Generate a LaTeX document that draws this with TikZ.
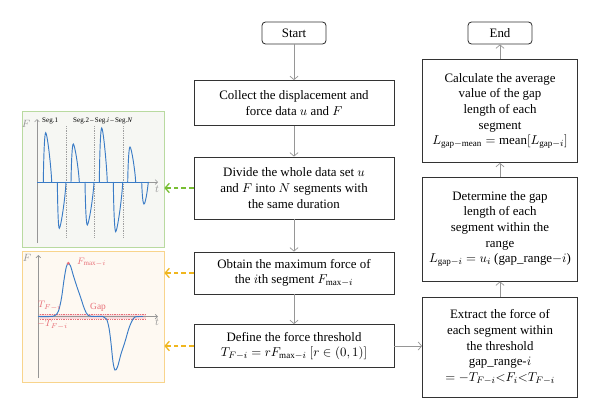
\documentclass[tikz,border=0pt]{standalone}
\usepackage{fontspec}
\setmainfont{Liberation Serif}
\usetikzlibrary{arrows.meta}
\definecolor{curveblue}{RGB}{58,124,198}
\definecolor{gapred}{RGB}{232,112,120}
\definecolor{flowgrey}{RGB}{150,150,150}
\definecolor{axisgrey}{RGB}{150,150,150}
\definecolor{segline}{RGB}{160,160,160}
\definecolor{greenedge}{RGB}{185,218,160}
\definecolor{greenback}{RGB}{246,247,243}
\definecolor{orangeedge}{RGB}{248,212,140}
\definecolor{orangeback}{RGB}{254,249,242}
\definecolor{greenhint}{RGB}{120,190,50}
\definecolor{orangehint}{RGB}{240,182,30}
\tikzset{
  stepbox/.style={draw=black!80, line width=0.7pt, minimum width=6cm, align=center,
    inner sep=2pt, font=\fontsize{11}{13.4}\selectfont},
  sidebox/.style={stepbox, minimum width=4.65cm},
  termbox/.style={draw=black!80, line width=0.7pt, rounded corners=3pt,
    minimum width=1.92cm, minimum height=0.66cm, font=\fontsize{11}{13}\selectfont},
  flow/.style={draw=flowgrey, line width=0.6pt, -{Straight Barb[length=3pt,width=7pt]}},
  hint/.style={dashed, dash pattern=on 4pt off 2.5pt, line width=1.1pt,
    -{Straight Barb[length=3.5pt,width=8pt]}},
  panel/.style={line width=0.6pt, minimum width=4.26cm},
  axis/.style={draw=axisgrey, line width=0.6pt, -{Straight Barb[length=2pt,width=4pt]}},
  curve/.style={draw=curveblue, line width=0.8pt},
  axlabel/.style={text=axisgrey, font=\fontsize{9}{10}\selectfont},
  seglabel/.style={font=\fontsize{6}{7}\selectfont, inner sep=0pt},
  gaplabel/.style={text=gapred, font=\fontsize{8}{9}\selectfont, inner sep=0pt}
}
\begin{document}
\begin{tikzpicture}[x=0.03cm,y=-0.03cm]
\useasboundingbox (0,0) rectangle (600,419);

% main column
\node[termbox] (start) at (294,33) {Start};
\node[stepbox, minimum height=1.35cm] (collect) at (294,103)
  {Collect the displacement and\\ force data $u$ and $F$};
\node[stepbox, minimum height=1.86cm] (divide) at (294,188)
  {Divide the whole data set $u$\\ and $F$ into $N$ segments with\\ the same duration};
\node[stepbox, minimum height=1.26cm] (obtain) at (294,273)
  {Obtain the maximum force of\\ the $i$th segment $F_{\mathrm{max}-i}$};
\node[stepbox, minimum height=1.29cm] (define) at (294,346)
  {Define the force threshold\\ $T_{F-i} = rF_{\mathrm{max}-i}\ [r\in(0,1)]$};

% right column
\node[termbox] (end) at (500,33) {End};
\node[sidebox, minimum height=3.09cm] (calc) at (500,111)
  {Calculate the average\\ value of the gap\\ length of each\\ segment\\
   $L_{\mathrm{gap-mean}} = \mathrm{mean}[L_{\mathrm{gap}-i}]$};
\node[sidebox, minimum height=3.12cm] (determine) at (500,229)
  {Determine the gap\\ length of each\\ segment within the\\ range\\
   $L_{\mathrm{gap}-i} = u_i$ (gap\_range$-i$)};
\node[sidebox, minimum height=3cm] (extract) at (500,347)
  {Extract the force of\\ each segment within\\ the threshold\\ gap\_range-$i$\\
   $= -T_{F-i}{<}F_i{<}T_{F-i}$};

\draw[flow] (start) -- (collect);
\draw[flow] (collect) -- (divide);
\draw[flow] (divide) -- (obtain);
\draw[flow] (obtain) -- (define);
\draw[flow] (define.east) -- (define.east -| extract.west);
\draw[flow] (extract) -- (determine);
\draw[flow] (determine) -- (calc);
\draw[flow] (calc) -- (end);

% side panels
\node[panel, draw=greenedge, fill=greenback, minimum height=4.08cm] (segpanel) at (93,179) {};
\node[panel, draw=orangeedge, fill=orangeback, minimum height=3.93cm] (gappanel) at (93,316.5) {};

\draw[hint, greenhint] (divide.west) -- (divide.west -| segpanel.east);
\draw[hint, orangehint] (obtain.west) -- (obtain.west -| gappanel.east);
\draw[hint, orangehint] (define.west) -- (define.west -| gappanel.east);

% segmented signal
\foreach \x in {66,94,123}
  \draw[segline, densely dotted, line width=0.5pt] (\x,126) -- (\x,238);
\draw[axis] (37,243) -- (37,119);
\draw[axis] (37,182) -- (158,182);
\node[axlabel] (F1) at (26,124) {$F$};
\node[axlabel] (t1) at (157,189) {$t$};
\node[seglabel, anchor=west] (seg1) at (42,121) {Seg.1};
\node[seglabel, anchor=west] (segN) at (73,121) {Seg.2\,--\,Seg.\textit{i}\,--\,Seg.\textit{N}};
\draw[curve] (37,182) -- (148.5,182);
\foreach \s/\p/\py/\e in {43.3/45.7/132.7/51.7, 57.3/59.3/228.3/66,
    71/73.3/144/79.3, 85/87.3/225/94, 99.3/101.7/128/107.3,
    113.3/115.7/231.7/122.7, 127.7/130/147/135.7, 141.7/144/204/148.3}
  \draw[curve] (\s,182) .. controls (\s+0.5,{\py+0.3*(182-\py)}) and (\p-0.9,\py) .. (\p,\py)
    .. controls (\p+1.4,\py) and (\e-0.7,{182-0.35*(182-\py)}) .. (\e,182);

% threshold and gap
\fill[gapred!25] (38,314) rectangle (146,319.3);
\draw[gapred, densely dotted, line width=0.5pt] (38,314) -- (146,314);
\draw[gapred, densely dotted, line width=0.5pt] (38,319.3) -- (146,319.3);
\draw[axis] (38.3,378) -- (38.3,255);
\draw[axis] (38,316.7) -- (158,316.7);
\node[axlabel] (F2) at (27,258) {$F$};
\node[axlabel] (t2) at (157,322) {$t$};
\draw[curve] plot[smooth, tension=0.55] coordinates {(38,316.5) (50,316.5) (55,315.5) (58.5,311)
  (61.5,298) (64,280) (66.3,267) (68.3,263.3) (70.5,266) (73.5,276) (77,287) (80.5,297)
  (84.5,309) (88.3,315.5) (95,316.5) (103,316.5) (106.5,319) (109,328) (111,343) (113,362)
  (115,370) (117.5,367) (121,354) (125,341.7) (129,328) (132,321) (135,317) (143,316.5)};
\fill[gapred] (68.3,263.3) circle (1.6);
\node[gaplabel, anchor=west] (fmax) at (77,262) {$F_{\mathrm{max}-i}$};
\node[gaplabel, anchor=west] (tpos) at (38,306) {$T_{F-i}$};
\node[gaplabel, anchor=west] (tneg) at (37,324.5) {$-T_{F-i}$};
\node[gaplabel, anchor=west] (gap) at (90,307) {Gap};
\end{tikzpicture}
\end{document}
